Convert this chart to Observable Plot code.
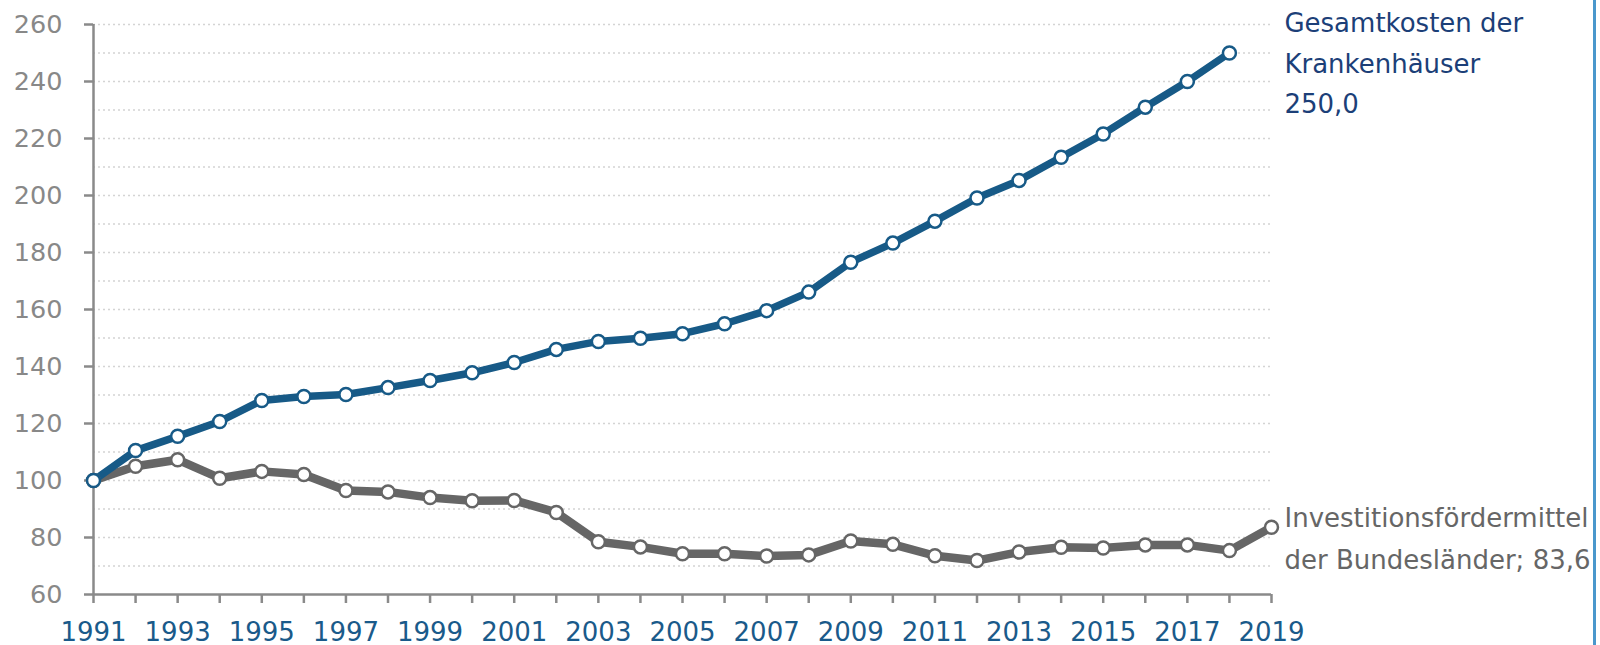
<!DOCTYPE html>
<html>
<head>
<meta charset="utf-8">
<script src="https://cdn.jsdelivr.net/npm/d3@7"></script>
<script src="https://cdn.jsdelivr.net/npm/@observablehq/plot@0.6"></script>
<style>
  html, body { margin: 0; padding: 0; background: #fff; }
  #wrap { position: relative; width: 1600px; height: 645px; overflow: hidden; }
  #edge { position: absolute; left: 1593px; top: 0; width: 2.5px; height: 645px; background: #4a97cc; }
</style>
</head>
<body>
<div id="wrap"><div id="chart"></div><div id="edge"></div></div>
<script>
const yearsCost = [1991,1992,1993,1994,1995,1996,1997,1998,1999,2000,2001,2002,2003,2004,2005,2006,2007,2008,2009,2010,2011,2012,2013,2014,2015,2016,2017,2018];
const costValues = [100,110.5,115.5,120.7,128.1,129.5,130.2,132.6,135.1,137.8,141.4,146.0,148.8,149.9,151.5,155.0,159.6,166.1,176.6,183.3,191.0,199.1,205.3,213.4,221.6,231.0,240.0,250.0];

const yearsInvest = [1991,1992,1993,1994,1995,1996,1997,1998,1999,2000,2001,2002,2003,2004,2005,2006,2007,2008,2009,2010,2011,2012,2013,2014,2015,2016,2017,2018,2019];
const investValues = [100,105.0,107.3,100.8,103.2,102.1,96.5,96.0,94.0,92.9,93.0,88.8,78.5,76.7,74.3,74.3,73.5,73.9,78.8,77.6,73.6,71.9,74.9,76.6,76.3,77.4,77.4,75.4,83.6];

const xTicks = [1991,1992,1993,1994,1995,1996,1997,1998,1999,2000,2001,2002,2003,2004,2005,2006,2007,2008,2009,2010,2011,2012,2013,2014,2015,2016,2017,2018,2019];
const xLabelYears = [1991,1993,1995,1997,1999,2001,2003,2005,2007,2009,2011,2013,2015,2017,2019];
const yTicks = [60,80,100,120,140,160,180,200,220,240,260];
const gridValues = [70,80,90,100,110,120,130,140,150,160,170,180,190,200,210,220,230,240,250,260];

const costLabel = "Gesamtkosten der\nKrankenhäuser";
const investLabel = "Investitionsfördermittel\nder Bundesländer;";

const fmt = v => v.toFixed(1).replace(".", ",");

const cost = yearsCost.map((y, i) => ({year: y, value: costValues[i]}));
const invest = yearsInvest.map((y, i) => ({year: y, value: investValues[i]}));
const costLast = cost[cost.length - 1];
const investLast = invest[invest.length - 1];

const blue = "#175a87";
const gray = "#666666";
const axisGray = "#8a8a8a";

const chart = Plot.plot({
  width: 1600,
  height: 645,
  marginLeft: 93,
  marginRight: 329,
  marginTop: 24,
  marginBottom: 51,
  style: {fontFamily: "DejaVu Sans", fontSize: "25px", background: "#fff"},
  x: {type: "linear", domain: [1991, 2019]},
  y: {domain: [60, 260]},
  marks: [
    Plot.ruleY(gridValues, {stroke: "#d4d4d4", strokeWidth: 1.5, strokeDasharray: "2,3"}),
    Plot.axisY({
      ticks: yTicks, tickSize: 9, tickPadding: 22, label: null,
      stroke: axisGray, strokeWidth: 2.5, fill: "#888888", fontSize: 25.5
    }),
    Plot.axisX({
      ticks: xTicks, tickSize: 9, tickPadding: 19, label: null,
      stroke: axisGray, strokeWidth: 2.5, fill: "#1a5a8a", fontSize: 26,
      tickFormat: d => xLabelYears.includes(d) ? String(d) : ""
    }),
    Plot.ruleX([1991], {stroke: axisGray, strokeWidth: 2.5}),
    Plot.ruleY([60], {stroke: axisGray, strokeWidth: 2.5}),
    Plot.line(invest, {x: "year", y: "value", stroke: gray, strokeWidth: 8.5, strokeLinejoin: "round"}),
    Plot.line(cost, {x: "year", y: "value", stroke: blue, strokeWidth: 7.5, strokeLinejoin: "round"}),
    Plot.dot(invest, {x: "year", y: "value", r: 6.5, fill: "white", stroke: gray, strokeWidth: 2.5}),
    Plot.dot(cost, {x: "year", y: "value", r: 6.5, fill: "white", stroke: blue, strokeWidth: 2.5}),
    Plot.text([costLast], {
      x: "year", y: "value",
      text: d => costLabel + "\n" + fmt(d.value),
      textAnchor: "start", lineAnchor: "top", lineHeight: 1.56,
      dx: 55, dy: -49.5, fill: "#1c3f78", fontSize: 26
    }),
    Plot.text([investLast], {
      x: "year", y: "value",
      text: d => investLabel + " " + fmt(d.value),
      textAnchor: "start", lineAnchor: "top", lineHeight: 1.62,
      dx: 13, dy: -30, fill: "#666666", fontSize: 26
    })
  ]
});
document.getElementById("chart").appendChild(chart);
</script>
</body>
</html>
